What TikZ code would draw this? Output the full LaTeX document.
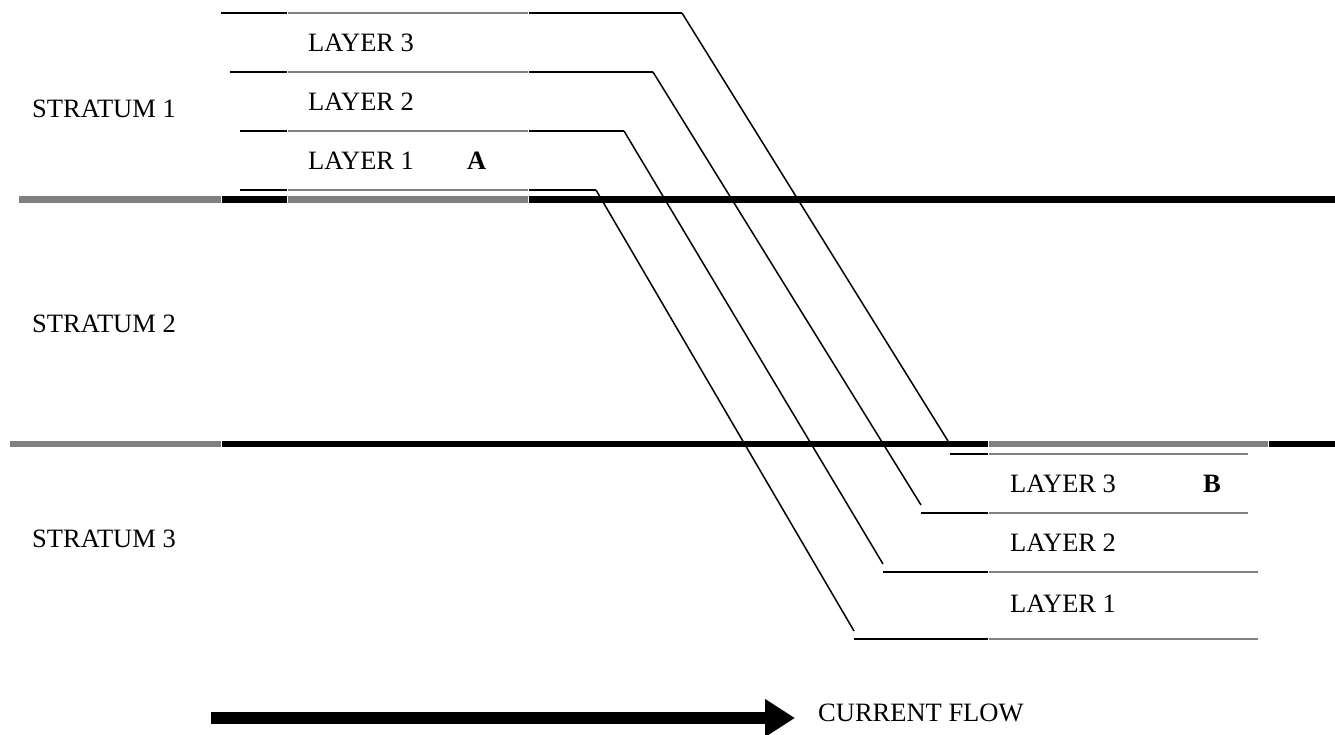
\documentclass[tikz,border=0pt]{standalone}
\usepackage{fontspec}
\setmainfont{Liberation Serif}
\usepackage{tikz}
\usetikzlibrary{arrows.meta}

\begin{document}
\begin{tikzpicture}[x=1pt,y=-1pt,blk/.style={black,line width=2.3pt},gry/.style={gray,line width=2pt},bed/.style={line width=6.5pt},lbl/.style={anchor=west,inner sep=0pt,font=\fontsize{26.5}{30}\selectfont}]
\useasboundingbox (0,0) rectangle (1335,734);
% strata boundaries
\draw[bed,gray] (19,199.5) -- (221,199.5);
\draw[bed] (222,199.5) -- (287,199.5);
\draw[bed,gray] (288,199.5) -- (528,199.5);
\draw[bed] (529,199.5) -- (1335,199.5);
\draw[bed,gray] (10,444) -- (221,444);
\draw[bed] (222,444) -- (988,444);
\draw[bed,gray] (989,444) -- (1268,444);
\draw[bed] (1269,444) -- (1335,444);
% layers at A
\foreach \y/\s/\e/\n in %
{13/221/682/3,72/230/653/2,131/240/624/1,190/240/596/0} {
   \draw[blk] (\s,\y) -- (287,\y);
   \draw[gry] (288,\y) -- (528,\y);
   \draw[blk] (529,\y) -- (\e,\y) coordinate (top\n);
}
% layers at B
\foreach \y/\s/\e/\n in %
{454/950/1248/3,513/921/1248/2,572/883/1258/1,639/854/1258/0} {
   \draw[blk] (\s,\y) coordinate (bot\n) -- (988,\y);
   \draw[gry] (989,\y) -- (\e,\y);
}
% offset along the fault
\coordinate (end3) at (948,441);
\coordinate (end2) at ([yshift=8pt]bot2);
\coordinate (end1) at ([yshift=8pt]bot1);
\coordinate (end0) at ([yshift=8pt]bot0);
\foreach \n in {0,1,2,3} {
   \draw[black,line width=1.5pt] (top\n) -- (end\n);
}
\node[lbl] (st1) at (32,109) {STRATUM 1};
\node[lbl] (st2) at (32,324) {STRATUM 2};
\node[lbl] (st3) at (32,539) {STRATUM 3};
\foreach \y/\1 in %
{42.5/3,101.5/2,160.5/1} {
   \node[lbl] (la\1) at (308,\y) {LAYER \1};
}
\foreach \y/\1 in %
{483.5/3,542.5/2,604/1} {
   \node[lbl] (lb\1) at (1010,\y) {LAYER \1};
}
\node[lbl] (A) at (467,160.5) {\bfseries A};
\node[lbl] (B) at (1203,483.5) {\bfseries B};
\node[lbl] (flow) at (818,713) {CURRENT FLOW};
\coordinate (flowstart) at (211,718);
\coordinate (flowtip) at (795,718);
\draw[line width=12pt,-{Triangle[length=30pt,width=36pt]}] (flowstart) -- (flowtip);
\end{tikzpicture}
\end{document}
